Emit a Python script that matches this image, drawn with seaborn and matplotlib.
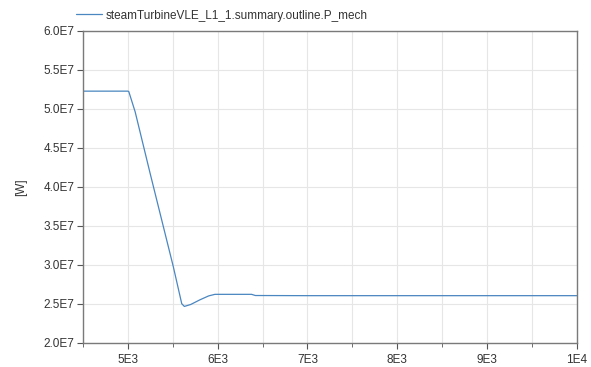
import matplotlib
matplotlib.use("Agg")
import matplotlib.pyplot as plt
import seaborn as sns
import pandas as pd
from matplotlib.ticker import FixedLocator, MultipleLocator

time = [4500, 5000, 5010, 5081, 5248, 5507, 5600, 5629, 5700, 5803, 5900, 5970, 6100, 6378, 6420, 7000, 8000, 9000, 10000]
p_mech = [5.225e7, 5.225e7, 5.22e7, 4.96e7, 4.17e7, 2.97e7, 2.50e7, 2.465e7, 2.49e7, 2.55e7, 2.60e7, 2.62e7, 2.62e7, 2.62e7, 2.605e7, 2.603e7, 2.603e7, 2.603e7, 2.603e7]

series_name = "steamTurbineVLE_L1_1.summary.outline.P_mech"
x_ticks = [5000, 6000, 7000, 8000, 9000, 10000]
x_tick_labels = ["5E3", "6E3", "7E3", "8E3", "9E3", "1E4"]
y_ticks = [2.0e7, 2.5e7, 3.0e7, 3.5e7, 4.0e7, 4.5e7, 5.0e7, 5.5e7, 6.0e7]
y_tick_labels = ["2.0E7", "2.5E7", "3.0E7", "3.5E7", "4.0E7", "4.5E7", "5.0E7", "5.5E7", "6.0E7"]

df = pd.DataFrame({"time": time, "P_mech": p_mech})

sns.set_style("white")
plt.rcParams["font.family"] = ["Liberation Sans", "DejaVu Sans"]

W, H = 591, 367
fig = plt.figure(figsize=(W / 100, H / 100), dpi=100)
ax = fig.add_axes([83 / W, 1 - 342.7 / H, (576.7 - 83) / W, (342.7 - 30.7) / H])

sns.lineplot(data=df, x="time", y="P_mech", ax=ax, color="#4a86c0", linewidth=0.9, label=series_name)

ax.set_xlim(4500, 10000)
ax.set_ylim(2.0e7, 6.0e7)
ax.xaxis.set_major_locator(FixedLocator(x_ticks))
ax.set_xticklabels(x_tick_labels)
ax.xaxis.set_minor_locator(MultipleLocator(500))
ax.yaxis.set_major_locator(FixedLocator(y_ticks))
ax.set_yticklabels(y_tick_labels)

ax.grid(True, which="major", color="#e6e6e6", linewidth=0.8)
ax.grid(True, which="minor", axis="x", color="#e6e6e6", linewidth=0.8)
ax.set_axisbelow(True)

for s in ax.spines.values():
    s.set_color("#7a7a7a")
    s.set_linewidth(1.0)

ax.tick_params(axis="both", which="major", direction="out", length=4, width=0.8,
               color="#555555", labelsize=8.5, labelcolor="#333333", pad=2)
ax.tick_params(axis="x", which="minor", direction="out", length=3, width=0.6, color="#555555")
ax.tick_params(axis="x", which="major", pad=4)
ax.tick_params(axis="x", bottom=True, which="both")
ax.tick_params(axis="y", left=True)

ax.set_xlabel("")
ax.set_ylabel("[W]", fontsize=8.5, color="#333333", labelpad=12)

leg = ax.legend(loc="center left", bbox_to_anchor=(76 / W, 1 - 15.5 / H),
                bbox_transform=fig.transFigure, frameon=False,
                fontsize=8.5, handlelength=2.2, handletextpad=0.3, borderaxespad=0.0,
                borderpad=0.0, labelcolor="#333333")

fig.savefig("out.png", dpi=100)
